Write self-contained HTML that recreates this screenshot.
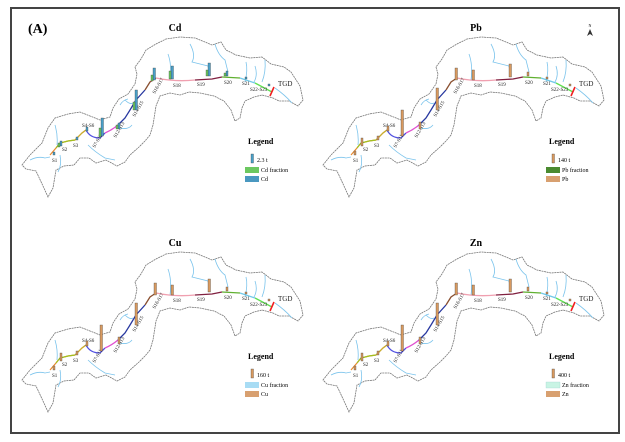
<!DOCTYPE html>
<html><head><meta charset="utf-8"><style>
html,body{margin:0;padding:0;background:#fff;}
svg{display:block;font-family:"Liberation Serif",serif;}
</style></head><body>
<svg width="625" height="442" viewBox="0 0 625 442" xmlns="http://www.w3.org/2000/svg">
<rect x="11" y="8" width="608" height="425" fill="#fff" stroke="#444" stroke-width="2"/>
<defs>
<g id="basin">
<path d="M22,165 L30,155 L42,143 L48,128 L55,118 L68,114 L80,112 L90,116 L100,120 L110,117 L113,108 L119,99 L128,94 L135,84 L137,74 L135,67 L141,59 L146,50 L156,44 L166,39 L180,37 L195,38 L205,42 L212,45 L221,42 L226,50 L236,55 L250,58 L262,57 L271,64 L284,67 L291,72 L300,86 L303,100 L298,106 L289,101 L279,101 L273,98 L262,95 L254,97 L245,101 L242,108 L240,118 L235,121 L231,110 L224,101 L214,96 L200,93 L189,92 L180,95 L170,93 L160,96 L156,106 L153,125 L150,135 L145,141 L139,147 L130,155 L125,162 L117,166 L106,160 L96,163 L89,158 L80,158 L74,165 L64,166 L56,170 L53,188 L48,197 L43,186 L36,171 L26,169 Z" fill="none" stroke="#777" stroke-width="0.8" stroke-dasharray="2,0.6"/>
<g fill="none" stroke="#7cc4ec" stroke-width="0.8">
<path d="M30,160 Q38,156 45,158 L50,157"/>
<path d="M55,125 Q58,135 57,145"/>
<path d="M60,155 Q62,165 58,172"/>
<path d="M88,145 Q95,152 105,158 L115,160"/>
<path d="M120,128 Q128,130 132,125"/>
<path d="M125,100 Q130,105 133,103"/>
<path d="M120,105 Q123,100 128,99"/>
<path d="M168,54 Q172,65 170,80"/>
<path d="M190,44 Q196,55 192,62 Q200,64 208,66 L210,75"/>
<path d="M215,44 Q218,55 225,60 L228,72"/>
<path d="M246,62 Q248,70 245,82"/>
<path d="M265,60 Q266,72 262,82"/>
<path d="M255,66 Q258,75 254,82"/>
<path d="M275,88 Q285,95 292,103"/>
</g>
<path d="M50,155 L56,148 L60,143 L68,141 L75,140 L82,133 L86,130" fill="none" stroke="#e88a30" stroke-width="1.2"/>
<path d="M56,148 L60,143 L68,141 L75,140" fill="none" stroke="#a0c020" stroke-width="1.2"/>
<path d="M75,140 L82,133 L86,130" fill="none" stroke="#c8b030" stroke-width="1.2"/>
<path d="M86,130 Q90,138 100,138 L105,133" fill="none" stroke="#5050e0" stroke-width="1.3"/>
<path d="M105,133 Q112,130 118,125" fill="none" stroke="#e050d0" stroke-width="1.3"/>
<path d="M118,125 L125,118 L130,110 L136,100 L145,90" fill="none" stroke="#2838a0" stroke-width="1.3"/>
<path d="M145,90 L150,82 L156,78" fill="none" stroke="#8a5030" stroke-width="1.3"/>
<path d="M156,78 Q175,82 195,80" fill="none" stroke="#f0a0b0" stroke-width="1.3"/>
<path d="M195,80 L212,79 L222,77" fill="none" stroke="#802040" stroke-width="1.3"/>
<path d="M222,77 L240,78" fill="none" stroke="#60b030" stroke-width="1.3"/>
<path d="M240,78 L255,83" fill="none" stroke="#70c8e8" stroke-width="1.3"/>
<path d="M255,83 L272,92" fill="none" stroke="#60e050" stroke-width="1.3"/>
<path d="M274,87 L270,96" stroke="#f02020" stroke-width="1.6"/>
</g>
</defs>

<text x="28" y="33" font-size="14" font-weight="bold">(A)</text>

<!-- panels -->
<g transform="translate(0,0)">
<use href="#basin"/>
<text x="175" y="31" font-size="10" font-weight="bold" text-anchor="middle">Cd</text>
</g>
<g transform="translate(301,0)">
<use href="#basin"/>
<text x="175" y="31" font-size="10" font-weight="bold" text-anchor="middle">Pb</text>
</g>
<g transform="translate(0,215)">
<use href="#basin"/>
<text x="175" y="31" font-size="10" font-weight="bold" text-anchor="middle">Cu</text>
</g>
<g transform="translate(301,215)">
<use href="#basin"/>
<text x="175" y="31" font-size="10" font-weight="bold" text-anchor="middle">Zn</text>
</g>

<!-- station labels, repeated per panel -->
<defs>
<g id="labels" font-size="5" fill="#222">
<text x="52" y="162">S1</text>
<text x="62" y="151">S2</text>
<text x="73" y="147">S3</text>
<text x="82" y="127">S4-S6</text>
<text x="95" y="148" transform="rotate(-60 95 148)">S7-S11</text>
<text x="116" y="138" transform="rotate(-60 116 138)">S12-S13</text>
<text x="135" y="117" transform="rotate(-60 135 117)">S14-S15</text>
<text x="155" y="94" transform="rotate(-60 155 94)">S16-S17</text>
<text x="173" y="87">S18</text>
<text x="197" y="86">S19</text>
<text x="224" y="84">S20</text>
<text x="242" y="85">S21</text>
<text x="250" y="91">S22-S23</text>
<text x="278" y="86" font-size="7">TGD</text>
</g>
</defs>
<use href="#labels"/>
<use href="#labels" transform="translate(301,0)"/>
<use href="#labels" transform="translate(0,215)"/>
<use href="#labels" transform="translate(301,215)"/>

<!-- Cd bars -->
<g stroke="#333" stroke-width="0.3">
<g fill="#4aa0c8">
<rect x="53" y="152" width="2" height="3"/><rect x="60" y="141" width="2" height="5"/>
<rect x="76" y="137" width="2" height="3"/><rect x="86" y="127" width="2" height="4"/>
<rect x="101" y="118" width="2.5" height="18"/><rect x="118" y="123" width="2" height="6"/>
<rect x="135" y="90" width="2.5" height="20"/><rect x="153" y="68" width="2.5" height="12"/>
<rect x="171" y="66" width="2.5" height="13"/><rect x="208" y="63" width="2.5" height="13"/>
<rect x="226" y="71" width="2" height="5"/><rect x="245" y="77" width="2" height="2"/><rect x="268" y="84" width="2" height="2"/>
</g>
<g fill="#6cc860">
<rect x="58" y="143" width="2" height="4"/><rect x="99" y="128" width="2" height="9"/>
<rect x="116" y="125" width="2" height="4"/><rect x="133" y="102" width="2" height="8"/>
<rect x="151" y="75" width="2" height="6"/><rect x="169" y="71" width="2" height="8"/>
<rect x="206" y="70" width="2" height="6"/><rect x="224" y="73" width="2" height="3"/>
</g>
</g>

<!-- bars for Pb/Cu/Zn (tan) -->
<defs>
<g id="tanbars" stroke="#333" stroke-width="0.3" fill="#d89a60">
<rect x="53" y="151" width="2" height="4"/><rect x="60" y="138" width="2" height="8"/>
<rect x="76" y="136" width="2" height="4"/><rect x="86" y="126" width="2" height="5"/>
<rect x="100" y="110" width="2.5" height="26"/><rect x="118" y="122" width="2" height="7"/>
<rect x="135" y="88" width="2.5" height="22"/><rect x="154" y="68" width="2.5" height="12"/>
<rect x="171" y="70" width="2.5" height="10"/><rect x="208" y="64" width="2.5" height="13"/>
<rect x="226" y="72" width="2" height="4"/><rect x="245" y="77" width="2" height="2"/><rect x="268" y="84" width="2" height="2"/>
</g>
</defs>
<use href="#tanbars" transform="translate(301,0)"/>
<use href="#tanbars" transform="translate(0,215)"/>
<use href="#tanbars" transform="translate(301,215)"/>

<!-- legends -->
<g font-size="6">
<text x="248" y="144" font-size="8" font-weight="bold">Legend</text>
<rect x="251" y="154" width="2.5" height="9" fill="#4aa0c8" stroke="#333" stroke-width="0.3"/>
<text x="257" y="162">2.3 t</text>
<rect x="245" y="167" width="14" height="6" fill="#6cc860"/><text x="261" y="172">Cd fraction</text>
<rect x="245" y="176" width="14" height="6" fill="#4a98c0"/><text x="261" y="181">Cd</text>

<text x="549" y="144" font-size="8" font-weight="bold">Legend</text>
<rect x="552" y="154" width="2.5" height="9" fill="#d89a60" stroke="#333" stroke-width="0.3"/>
<text x="558" y="162">140 t</text>
<rect x="546" y="167" width="14" height="6" fill="#4a8a30"/><text x="562" y="172">Pb fraction</text>
<rect x="546" y="176" width="14" height="6" fill="#d8a070"/><text x="562" y="181">Pb</text>

<text x="248" y="359" font-size="8" font-weight="bold">Legend</text>
<rect x="251" y="369" width="2.5" height="9" fill="#d89a60" stroke="#333" stroke-width="0.3"/>
<text x="257" y="377">160 t</text>
<rect x="245" y="382" width="14" height="6" fill="#a8dcf4"/><text x="261" y="387">Cu fraction</text>
<rect x="245" y="391" width="14" height="6" fill="#d8a070"/><text x="261" y="396">Cu</text>

<text x="549" y="359" font-size="8" font-weight="bold">Legend</text>
<rect x="552" y="369" width="2.5" height="9" fill="#d89a60" stroke="#333" stroke-width="0.3"/>
<text x="558" y="377">400 t</text>
<rect x="546" y="382" width="14" height="6" fill="#c8f4e4" stroke="#9cc" stroke-width="0.3"/><text x="562" y="387">Zn fraction</text>
<rect x="546" y="391" width="14" height="6" fill="#d8a070"/><text x="562" y="396">Zn</text>
</g>

<!-- north arrow -->
<text x="590" y="27" font-size="4" text-anchor="middle">N</text>
<path d="M590,29 L587,36 L590,34 L593,36 Z" fill="#333"/>
</svg>
</body></html>
